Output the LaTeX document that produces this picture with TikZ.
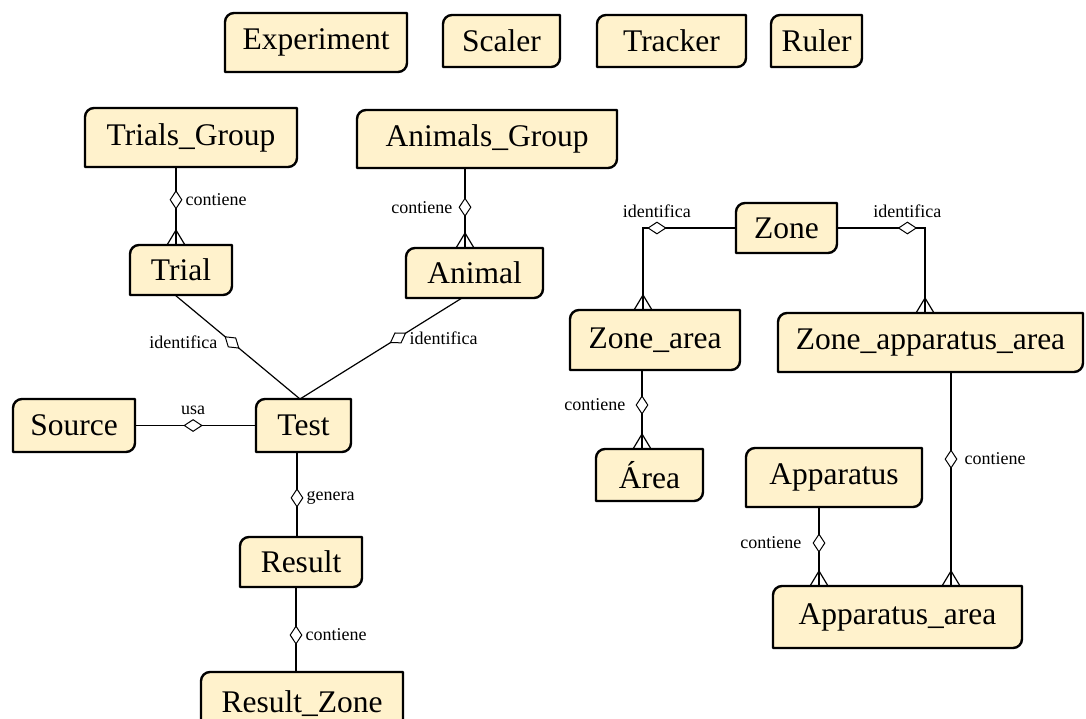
\documentclass[tikz,border=0pt]{standalone}
\usepackage{fontspec}
\setmainfont{Liberation Serif}
\usetikzlibrary{shapes.geometric,backgrounds}
\definecolor{entfill}{HTML}{FFF2CC}
\tikzset{
  ent/.style={inner sep=0pt, outer sep=0pt, text=black,
              font=\fontsize{31.5}{36}\selectfont},
  frame/.style={fill=entfill, draw=black, line width=2.4pt, line join=round},
  link/.style={draw=black, line width=1.2pt},
  rel/.style={diamond, draw=black, fill=white, line width=1pt,
              minimum width=18pt, minimum height=12pt, inner sep=0pt, sloped},
  lbl/.style={inner sep=0pt, text=black, font=\fontsize{18}{21}\selectfont},
  crow/.pic={\draw[line width=1.2pt] (-9,0) -- (0,15) -- (9,0);}
}
% entity outline: rounded top-left and bottom-right corners
\newcommand\entframe[1]{%
  \path[frame] (#1.south west) -- ([yshift=-9pt]#1.north west)
    arc[start angle=180,end angle=90,radius=9pt] -- (#1.north east)
    -- ([yshift=9pt]#1.south east)
    arc[start angle=0,end angle=-90,radius=9pt] -- cycle;}

\begin{document}
\begin{tikzpicture}[x=1pt,y=1pt]
\useasboundingbox (0,0) rectangle (1086,-718);

% stand-alone entities
\node[ent, minimum width=182pt, minimum height=59pt] (exp) at (316,-42.5) {Experiment};
\node[ent, minimum width=117pt, minimum height=52pt] (scl) at (501.5,-41) {Scaler};
\node[ent, minimum width=149pt, minimum height=52pt] (trk) at (671.5,-41) {Tracker};
\node[ent, minimum width=91pt,  minimum height=52pt] (rul) at (816.5,-41) {Ruler};

% test side
\node[ent, minimum width=212pt, minimum height=59pt] (tg)  at (191,-137.5) {Trials\_Group};
\node[ent, minimum width=260pt, minimum height=58pt] (ag)  at (487,-139) {Animals\_Group};
\node[ent, minimum width=102pt, minimum height=50pt] (trial) at (181,-270) {Trial};
\node[ent, minimum width=137pt, minimum height=50pt] (animal) at (474.5,-273) {Animal};
\node[ent, minimum width=122pt, minimum height=53pt] (src) at (74,-425.5) {Source};
\node[ent, minimum width=95pt,  minimum height=53pt] (test) at (303.5,-425.5) {Test};
\node[ent, minimum width=122pt, minimum height=50pt] (res) at (301,-562) {Result};
\node[ent, minimum width=202pt, minimum height=64pt] (rz)  at (302,-704) {Result\_Zone};

% zone side
\node[ent, minimum width=101pt, minimum height=50pt] (zone) at (786.5,-228) {Zone};
\node[ent, minimum width=170pt, minimum height=60pt] (za)  at (655,-340) {Zone\_area};
\node[ent, minimum width=305pt, minimum height=59pt] (zaa) at (930.5,-342.5) {Zone\_apparatus\_area};
\node[ent, minimum width=107pt, minimum height=52pt] (area) at (649.5,-475) {Área};
\node[ent, minimum width=176pt, minimum height=59pt] (app) at (834,-477.5) {Apparatus};
\node[ent, minimum width=249pt, minimum height=62pt] (aa)  at (897.5,-617) {Apparatus\_area};

\begin{scope}[on background layer]
  \foreach \n in {exp,scl,trk,rul,tg,ag,trial,animal,src,test,res,rz,zone,za,zaa,area,app,aa}
    {\entframe{\n}}
\end{scope}

\coordinate (testtop) at ([xshift=-3.5pt]test.north);

% relationships
\draw[link] ([xshift=-15pt]tg.south) --
  node[rel, pos=.42]{} node[lbl, pos=.42, anchor=west, xshift=9pt]{contiene}
  ([xshift=-5pt]trial.north);
\pic at ([xshift=-5pt]trial.north) {crow};

\draw[link] ([xshift=-22pt]ag.south) --
  node[rel, pos=.49]{} node[lbl, pos=.49, anchor=east, xshift=-12pt]{contiene}
  ([xshift=-9.5pt]animal.north);
\pic at ([xshift=-9.5pt]animal.north) {crow};

\draw[link] ([xshift=-6pt]trial.south) --
  node[rel, pos=.456]{} node[lbl, pos=.456, anchor=east, xshift=-14pt]{identifica}
  (testtop);

\draw[link] ([xshift=-12.5pt]animal.south) --
  node[rel, pos=.395]{} node[lbl, pos=.395, anchor=west, xshift=11pt]{identifica}
  (testtop);

\draw[link] (src.east) --
  node[rel, pos=.48]{} node[lbl, pos=.48, anchor=south, yshift=10pt]{usa}
  (test.west);

\draw[link] ([xshift=-6.5pt]test.south) --
  node[rel, pos=.54]{} node[lbl, pos=.54, anchor=west, xshift=9pt]{genera}
  ([xshift=-4pt]res.north);

\draw[link] ([xshift=-5pt]res.south) --
  node[rel, pos=.565]{} node[lbl, pos=.565, anchor=west, xshift=9pt]{contiene}
  ([xshift=-6pt]rz.north);

\draw[link] (zone.west) -|
  node[rel, pos=.425]{} node[lbl, pos=.425, anchor=south, yshift=10pt]{identifica}
  ([xshift=-12pt]za.north);
\pic at ([xshift=-12pt]za.north) {crow};

\draw[link] (zone.east) -|
  node[rel, pos=.40]{} node[lbl, pos=.40, anchor=south, yshift=10pt]{identifica}
  ([xshift=-5.5pt]zaa.north);
\pic at ([xshift=-5.5pt]zaa.north) {crow};

\draw[link] ([xshift=-13pt]za.south) --
  node[rel, pos=.443]{} node[lbl, pos=.443, anchor=east, xshift=-16pt]{contiene}
  ([xshift=-7.5pt]area.north);
\pic at ([xshift=-7.5pt]area.north) {crow};

\draw[link] ([xshift=20.5pt]zaa.south) --
  node[rel, pos=.407]{} node[lbl, pos=.407, anchor=west, xshift=13pt]{contiene}
  ([xshift=53.5pt]aa.north);
\pic at ([xshift=53.5pt]aa.north) {crow};

\draw[link] ([xshift=-15pt]app.south) --
  node[rel, pos=.456]{} node[lbl, pos=.456, anchor=east, xshift=-17pt]{contiene}
  ([xshift=-78.5pt]aa.north);
\pic at ([xshift=-78.5pt]aa.north) {crow};
\end{tikzpicture}
\end{document}
